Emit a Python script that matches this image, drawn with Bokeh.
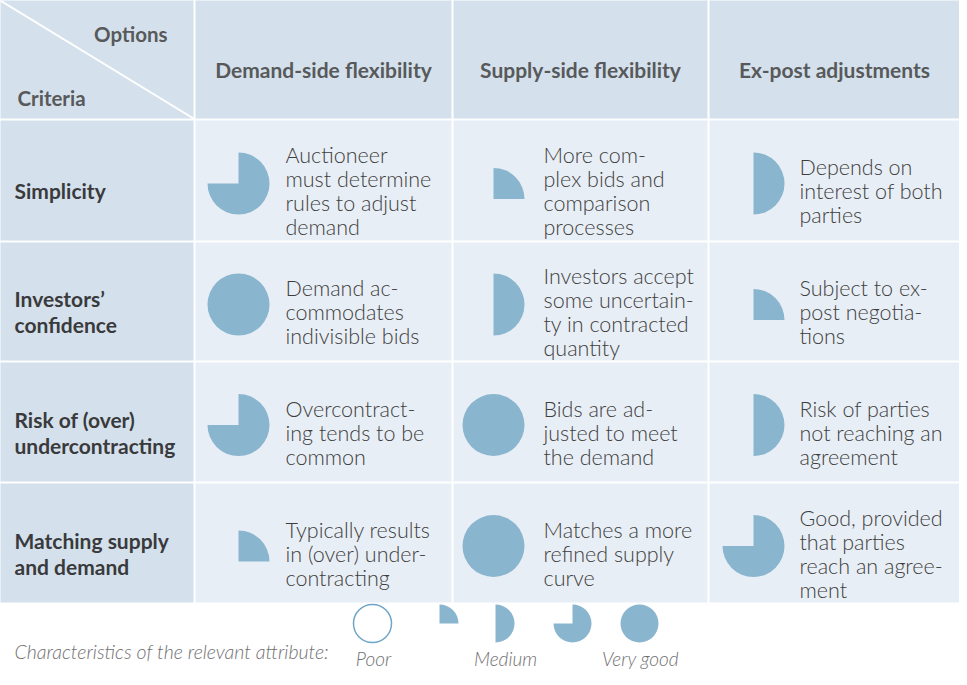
from bokeh.plotting import figure
from bokeh.models import Range1d
from bokeh.core.properties import value
from bokeh.embed import file_html
from bokeh.resources import INLINE
import math

# ---------------- data ----------------
options = ["Demand-side flexibility", "Supply-side flexibility", "Ex-post adjustments"]
criteria = ["Simplicity", "Investors’\nconfidence", "Risk of (over)\nundercontracting",
            "Matching supply\nand demand"]
# Harvey-ball ratings in quarters (0 = poor ... 4 = very good)
ratings = [
    [3, 1, 2],
    [4, 2, 1],
    [3, 4, 2],
    [1, 4, 3],
]
descriptions = [
    ["Auctioneer\nmust determine\nrules to adjust\ndemand",
     "More com-\nplex bids and\ncomparison\nprocesses",
     "Depends on\ninterest of both\nparties"],
    ["Demand ac-\ncommodates\nindivisible bids",
     "Investors accept\nsome uncertain-\nty in contracted\nquantity",
     "Subject to ex-\npost negotia-\ntions"],
    ["Overcontract-\ning tends to be\ncommon",
     "Bids are ad-\njusted to meet\nthe demand",
     "Risk of parties\nnot reaching an\nagreement"],
    ["Typically results\nin (over) under-\ncontracting",
     "Matches a more\nrefined supply\ncurve",
     "Good, provided\nthat parties\nreach an agree-\nment"],
]
legend_title = "Characteristics of the relevant attribute:"
legend_levels = [0, 1, 2, 3, 4]
legend_labels = ["Poor", "", "Medium", "", "Very good"]

# ---------------- layout (page pixels, y downward) ----------------
W, H = 959, 669
col_edges = [(6, 201), (203, 459), (461, 715), (717, 990)]
row_edges = [(7, 126), (128, 248), (250, 368), (370, 489), (491, 610)]
ball_r = 31
ball_dx = [43, 40, 44]
text_dx = 90
leg_x = [380, 447, 503, 580, 647]
leg_label_x = [381, 447, 513, 580, 648]
leg_cy = 631
leg_r = 19
leg_title_base = 659
leg_label_base = 666

HEAD_BG = "#D4E1EC"
BODY_BG = "#E8EEF5"
BALL = "#8AB5CF"
HEAD_TXT = "#58595B"
LABEL_TXT = "#3A3A3C"
BODY_TXT = "#3E3E40"
LEG_TXT = "#707072"

def Y(py):
    return -py

p = figure(width=W, height=H, x_range=Range1d(8, 8 + W), y_range=Range1d(-(8 + H), -8),
           output_backend="svg", toolbar_location=None, min_border=0,
           x_axis_type=None, y_axis_type=None)
p.grid.visible = False
p.outline_line_color = None
p.background_fill_color = "white"
p.border_fill_color = "white"

# cells
L, R, T, B, C = [], [], [], [], []
for ri, (t, b) in enumerate(row_edges):
    for ci, (l, r) in enumerate(col_edges):
        L.append(l); R.append(r); T.append(Y(t)); B.append(Y(b))
        C.append(HEAD_BG if (ri == 0 or ci == 0) else BODY_BG)
p.quad(left=L, right=R, top=T, bottom=B, fill_color=C, line_color=None)

# diagonal in corner cell
p.line([col_edges[0][0], col_edges[0][1]], [Y(row_edges[0][0]), Y(row_edges[0][1])],
       line_color="white", line_width=2)

bold_font = value("Lato")
light_font = value("Lato Light")

# corner labels
p.text([175], [Y(41)], text=["Options"], text_font=bold_font, text_font_style="bold",
       text_font_size="20.5px", text_color=HEAD_TXT, text_align="right", text_baseline="alphabetic")
p.text([25], [Y(105)], text=["Criteria"], text_font=bold_font, text_font_style="bold",
       text_font_size="20.5px", text_color=HEAD_TXT, text_align="left", text_baseline="alphabetic")

# column headers
hx, hy = [], []
ht, hb = row_edges[0]
for ci, name in enumerate(options):
    l, r = col_edges[ci + 1]
    if ci == 2:
        r = 967
    hx.append((l + r) / 2)
    hy.append(Y((ht + hb) / 2 + 10.5))
p.text(hx, hy, text=options, text_font=bold_font, text_font_style="bold",
       text_font_size="21px", text_color=HEAD_TXT, text_align="center", text_baseline="alphabetic")

# row labels
lx, ly, lt = [], [], []
for ri, lab in enumerate(criteria):
    t, b = row_edges[ri + 1]
    rc = (t + b) / 2
    lines = lab.split("\n")
    n = len(lines)
    for i, s in enumerate(lines):
        lx.append(22)
        ly.append(Y(rc + 10 + (i - (n - 1) / 2) * 26))
        lt.append(s)
p.text(lx, ly, text=lt, text_font=bold_font, text_font_style="bold",
       text_font_size="21px", text_color=LABEL_TXT, text_align="left", text_baseline="alphabetic")

# body text
bx, by, bt = [], [], []
for ri in range(4):
    t, b = row_edges[ri + 1]
    rc = (t + b) / 2
    for ci in range(3):
        l, r = col_edges[ci + 1]
        lines = descriptions[ri][ci].split("\n")
        n = len(lines)
        for i, s in enumerate(lines):
            bx.append(l + text_dx)
            by.append(Y(rc + 10.5 + (i - (n - 1) / 2) * 24))
            bt.append(s)
p.text(bx, by, text=bt, text_font=light_font, text_font_size="21.5px",
       text_color=BODY_TXT, text_align="left", text_baseline="alphabetic")

# harvey balls
def harvey(cx_list, cy_list, vals, r, shift_quarter):
    wx, wy, ws, fx, fy = [], [], [], [], []
    for cx, cy, v in zip(cx_list, cy_list, vals):
        if v >= 4:
            fx.append(cx); fy.append(Y(cy))
        elif v > 0:
            yy = cy + (r / 2 if (v == 1 and shift_quarter) else 0)
            wx.append(cx); wy.append(Y(yy)); ws.append(math.pi / 2 - v * math.pi / 2)
    if wx:
        p.wedge(x=wx, y=wy, radius=r, start_angle=ws, end_angle=[math.pi / 2] * len(wx),
                direction="anticlock", fill_color=BALL, line_color=None)
    if fx:
        p.circle(x=fx, y=fy, radius=r, fill_color=BALL, line_color=None)

cxs, cys, vs = [], [], []
for ri in range(4):
    t, b = row_edges[ri + 1]
    rc = (t + b) / 2 + 3
    for ci in range(3):
        l, r = col_edges[ci + 1]
        cxs.append(l + ball_dx[ci]); cys.append(rc); vs.append(ratings[ri][ci])
harvey(cxs, cys, vs, ball_r, True)

# legend
p.text([22], [Y(leg_title_base)], text=[legend_title], text_font=light_font,
       text_font_style="italic", text_font_size="19.5px", text_color=LEG_TXT,
       text_align="left", text_baseline="alphabetic")
zero_x = [x for x, v in zip(leg_x, legend_levels) if v == 0]
p.circle(x=zero_x, y=[Y(leg_cy)] * len(zero_x), radius=leg_r, fill_color="white",
         line_color="#6FA6C8", line_width=1.5)
harvey([x for x, v in zip(leg_x, legend_levels) if v > 0],
       [leg_cy] * sum(1 for v in legend_levels if v > 0),
       [v for v in legend_levels if v > 0], leg_r, False)
lab_x = [x for x, s in zip(leg_label_x, legend_labels) if s]
lab_t = [s for s in legend_labels if s]
p.text(lab_x, [Y(leg_label_base)] * len(lab_x), text=lab_t, text_font=light_font,
       text_font_style="italic", text_font_size="19px", text_color=LEG_TXT,
       text_align="center", text_baseline="alphabetic")

open("out.html", "w").write(file_html(p, INLINE))
